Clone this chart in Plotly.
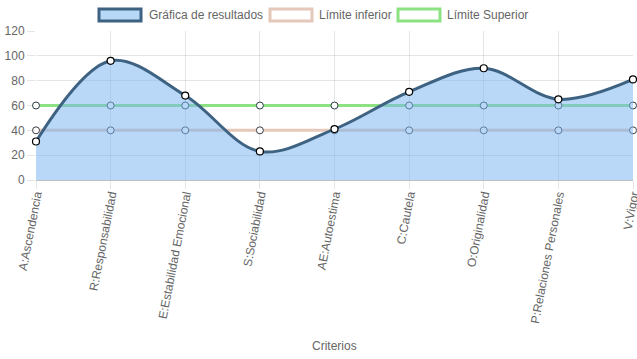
import plotly.graph_objects as go

categorias = ["A:Ascendencia", "R:Responsabilidad", "E:Estabilidad Emocional",
              "S:Sociabilidad", "AE:Autoestima", "C:Cautela", "O:Originalidad",
              "P:Relaciones Personales", "V:Vigor"]
resultados = [31, 96, 68, 23, 41, 71, 90, 65, 81]
limite_inferior = [40, 40, 40, 40, 40, 40, 40, 40, 40]
limite_superior = [60, 60, 60, 60, 60, 60, 60, 60, 60]
series_nombres = ["Gráfica de resultados", "Límite inferior", "Límite Superior"]

FONT = "Liberation Sans, Arial, sans-serif"
GREY = "#666666"
W, H = 637, 359
# plot area in window pixels
PL, PR, PT, PB = 36, 633, 31, 180

def px_x(px):
    return (px - PL) / (PR - PL)

def px_y(py):
    return (PB - py) / (PB - PT)

fig = go.Figure()

fig.add_trace(go.Scatter(
    x=categorias, y=limite_inferior, mode="lines+markers", showlegend=False,
    cliponaxis=False,
    line=dict(color="rgb(228,200,186)", width=3),
    marker=dict(size=7, color="white", line=dict(color="rgb(60,60,70)", width=1)),
))
fig.add_trace(go.Scatter(
    x=categorias, y=limite_superior, mode="lines+markers", showlegend=False,
    cliponaxis=False,
    line=dict(color="rgb(140,225,130)", width=3),
    marker=dict(size=7, color="white", line=dict(color="rgb(40,60,70)", width=1)),
))
fig.add_trace(go.Scatter(
    x=categorias, y=resultados, mode="lines+markers", showlegend=False,
    cliponaxis=False,
    fill="tozeroy", fillcolor="rgba(120,180,240,0.52)",
    line=dict(color="rgb(62,98,130)", width=3, shape="spline", smoothing=1.0),
    marker=dict(size=7, color="white", line=dict(color="black", width=1.2)),
))

# manual Chart.js-style legend
legend_style = [("rgb(183,216,246)", "rgb(62,98,130)", 99, 147),
                ("white", "rgb(228,200,186)", 270, 317),
                ("white", "rgb(140,225,130)", 398, 445)]
shapes = []
annotations = []
for name, (fc, lc, bx, tx) in zip(series_nombres, legend_style):
    shapes.append(dict(type="rect", xref="paper", yref="paper",
                       x0=px_x(bx), x1=px_x(bx + 42), y0=px_y(21), y1=px_y(9),
                       fillcolor=fc, line=dict(color=lc, width=3)))
    annotations.append(dict(text=name, xref="paper", yref="paper",
                            x=px_x(tx), y=px_y(15), xanchor="left", yanchor="middle",
                            showarrow=False, font=dict(family=FONT, size=12, color=GREY)))
annotations.append(dict(text="Criterios", xref="paper", yref="paper",
                        x=0.5, y=px_y(346), xanchor="center", yanchor="middle",
                        showarrow=False, font=dict(family=FONT, size=12, color=GREY)))

fig.update_layout(
    width=W, height=H,
    margin=dict(l=PL, r=W - PR, t=PT, b=H - PB, pad=0),
    paper_bgcolor="white", plot_bgcolor="white",
    font=dict(family=FONT, size=12, color=GREY),
    showlegend=False,
    shapes=shapes, annotations=annotations,
    xaxis=dict(
        type="category", range=[0, 8], automargin=False,
        showgrid=True, gridcolor="rgba(0,0,0,0.1)", gridwidth=1,
        tickangle=-79, tickfont=dict(family=FONT, size=12, color=GREY),
        ticks="outside", ticklen=8, tickcolor="rgba(0,0,0,0.1)",
        ticklabelstandoff=-6,
        showline=False, zeroline=False,
    ),
    yaxis=dict(
        range=[0, 120], dtick=20, automargin=False,
        showgrid=True, gridcolor="rgba(0,0,0,0.1)", gridwidth=1,
        zeroline=True, zerolinecolor="rgba(0,0,0,0.25)", zerolinewidth=1,
        ticks="outside", ticklen=8, tickcolor="rgba(0,0,0,0.1)",
        tickfont=dict(family=FONT, size=12, color=GREY),
        showline=False,
    ),
)

fig.write_html("out.html",
               config={"displayModeBar": False},
               post_script="document.body.style.margin='0';document.body.style.overflow='hidden';")
